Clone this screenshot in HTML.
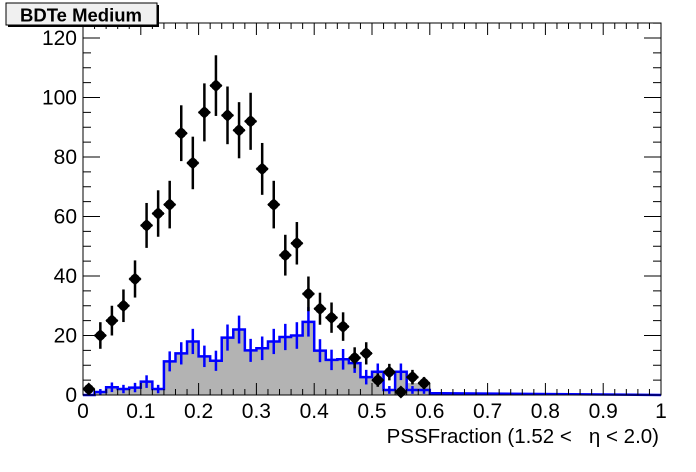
<!DOCTYPE html>
<html><head><meta charset="utf-8"><style>
html,body{margin:0;padding:0;background:#fff;}
svg{display:block;font-family:"Liberation Sans",Arial,sans-serif;}
</style></head><body>
<svg id="s" width="696" height="472" viewBox="0 0 696 472" xmlns="http://www.w3.org/2000/svg"></svg>
<script>
const S=document.getElementById('s');
const X0=83,X1=661,Y0=395,YT=23;
const px=v=>X0+(X1-X0)*v, py=v=>Y0-2.975*v;
let h='';
const blue=[0,1,2.6,2,2.5,4.5,2,11.3,14,18,13,11.5,19.3,22,15,15.7,18,19.5,20,24.6,14.9,11.8,12,10.7,6,7.8,1.7,7.8,1.7,1.7,0.6];
const gray=blue.slice(); gray[26]=1.7; gray[28]=4; gray[29]=4;
let d='M'+px(0)+','+Y0;
gray.forEach((v,i)=>{d+=' L'+px(i*0.02)+','+py(v)+' L'+px((i+1)*0.02)+','+py(v);});
d+=' L'+px(gray.length*0.02)+','+Y0+' Z';
h+=`<path d="${d}" fill="#b3b3b3"/>`;
d='M'+px(0)+','+py(blue[0]);
blue.forEach((v,i)=>{d+=' L'+px(i*0.02)+','+py(v)+' L'+px((i+1)*0.02)+','+py(v);});
d+=' L'+px(1)+','+Y0;
h+=`<path d="${d}" fill="none" stroke="#0000ff" stroke-width="2.5"/>`;
blue.forEach((v,i)=>{if(v>0.8){const c=px(i*0.02+0.01),e=Math.sqrt(v);h+=`<line x1="${c}" x2="${c}" y1="${py(v+e)}" y2="${py(Math.max(0,v-e))}" stroke="#0000ff" stroke-width="2.5"/>`;}});
h+=`<rect x="${X0}" y="${YT}" width="${X1-X0}" height="${Y0-YT}" fill="none" stroke="#000" stroke-width="1"/>`;
for(let i=0;i<=50;i++){const x=px(i*0.02),L=(i%5==0)?12:6;
h+=`<line x1="${x}" x2="${x}" y1="${Y0}" y2="${Y0-L}" stroke="#000"/><line x1="${x}" x2="${x}" y1="${YT}" y2="${YT+L}" stroke="#000"/>`;}
for(let v=0;v<=125;v+=5){const y=py(v),L=(v%20==0)?17:8;
h+=`<line x1="${X0}" x2="${X0+L}" y1="${y}" y2="${y}" stroke="#000"/><line x1="${X1}" x2="${X1-L}" y1="${y}" y2="${y}" stroke="#000"/>`;}
for(let v=0;v<=120;v+=20)h+=`<text x="77" y="${py(v)+7}" font-size="21" text-anchor="end">${v}</text>`;
for(let i=0;i<=10;i++){const t=i==0?'0':i==10?'1':'0.'+i;h+=`<text x="${px(i/10)}" y="418" font-size="21" text-anchor="middle">${t}</text>`;}
h+=`<text x="659" y="443" font-size="20.5" text-anchor="end" xml:space="preserve">PSSFraction (1.52 &lt;   η &lt; 2.0)</text>`;
const dat=[2,20,25,30,39,57,61,64,88,78,95,104,94,89,92,76,64,47,51,34,29,26,23,12.5,14,5,7.7,1,6,4];
dat.forEach((v,i)=>{const c=px(i*0.02+0.01),y=py(v),e=Math.sqrt(v);
h+=`<line x1="${c}" x2="${c}" y1="${py(v+e)}" y2="${py(Math.max(0,v-e))}" stroke="#000" stroke-width="2.5"/>`;
h+=`<line x1="${c-5.8}" x2="${c+5.8}" y1="${y}" y2="${y}" stroke="#000" stroke-width="2.5"/>`;
h+=`<path d="M${c},${y-6.5} L${c+6.5},${y} L${c},${y+6.5} L${c-6.5},${y} Z" fill="#000"/><circle cx="${c}" cy="${y}" r="4.8" fill="#000"/>`;});
h+=`<rect x="8" y="5" width="151" height="22" fill="#000"/><rect x="6" y="3" width="151" height="22" fill="#f0f0f0" stroke="#000"/>`;
h+=`<text x="81" y="21.5" font-size="18.5" font-weight="bold" text-anchor="middle">BDTe Medium</text>`;
S.innerHTML=h;
</script>
</body></html>
